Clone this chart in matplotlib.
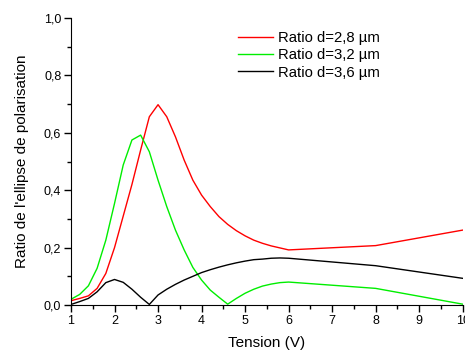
import matplotlib
matplotlib.use("Agg")
import matplotlib.pyplot as plt
from matplotlib.ticker import MultipleLocator, FuncFormatter

plt.rcParams['font.family'] = ['Liberation Sans', 'DejaVu Sans']

# tension (V)
x_fine = [1.0, 1.2, 1.4, 1.6, 1.8, 2.0, 2.2, 2.4, 2.6, 2.8, 3.0, 3.2, 3.4, 3.6, 3.8,
          4.0, 4.2, 4.4, 4.6, 4.8, 5.0, 5.2, 5.4, 5.6, 5.8, 6.0, 8.0, 10.0]

ratio_28 = [0.015, 0.023, 0.032, 0.058, 0.11, 0.20, 0.31, 0.42, 0.54, 0.656, 0.698, 0.656,
            0.586, 0.505, 0.435, 0.383, 0.343, 0.308, 0.281, 0.259, 0.241, 0.226, 0.215,
            0.206, 0.199, 0.192, 0.207, 0.261]
ratio_32 = [0.02, 0.037, 0.067, 0.128, 0.226, 0.354, 0.488, 0.575, 0.592, 0.534, 0.435, 0.343,
            0.261, 0.192, 0.131, 0.087, 0.052, 0.027, 0.003, 0.023, 0.041, 0.055, 0.066,
            0.073, 0.078, 0.080, 0.058, 0.003]
ratio_36 = [0.002, 0.012, 0.023, 0.046, 0.078, 0.089, 0.079, 0.055, 0.027, 0.002, 0.035, 0.055,
            0.072, 0.087, 0.10, 0.113, 0.123, 0.132, 0.14, 0.147, 0.153, 0.158, 0.160,
            0.163, 0.164, 0.163, 0.137, 0.093]

labels = ["Ratio d=2,8 µm", "Ratio d=3,2 µm", "Ratio d=3,6 µm"]
colors = ["#ff0000", "#00ee00", "#000000"]

fig = plt.figure(figsize=(4.65, 3.51), dpi=100)
ax = fig.add_axes([0.1527, 0.131, 0.8423, 0.8177])

for y, lab, c in zip([ratio_28, ratio_32, ratio_36], labels, colors):
    ax.plot(x_fine, y, color=c, lw=1.0, label=lab)

ax.set_xlim(1, 10)
ax.set_ylim(0, 1.0)
ax.spines['top'].set_visible(False)
ax.spines['right'].set_visible(False)
ax.xaxis.set_major_locator(MultipleLocator(1))
ax.xaxis.set_minor_locator(MultipleLocator(0.5))
ax.yaxis.set_major_locator(MultipleLocator(0.2))
ax.yaxis.set_minor_locator(MultipleLocator(0.1))
ax.yaxis.set_major_formatter(FuncFormatter(lambda v, p: ("%.1f" % v).replace(".", ",")))
ax.tick_params(which='major', direction='out', length=5, width=1, labelsize=9, pad=2)
ax.tick_params(which='minor', direction='out', length=3, width=1)

ax.set_xlabel("Tension (V)", fontsize=11, labelpad=7)
ax.set_ylabel("Ratio de l'ellipse de polarisation", fontsize=11, labelpad=11)

ax.legend(frameon=False, loc='upper left', bbox_to_anchor=(0.41, 0.975), fontsize=10.7,
          handlelength=2.4, handletextpad=0.35, labelspacing=0.22, borderaxespad=0)

fig.savefig("out.png", dpi=100)
